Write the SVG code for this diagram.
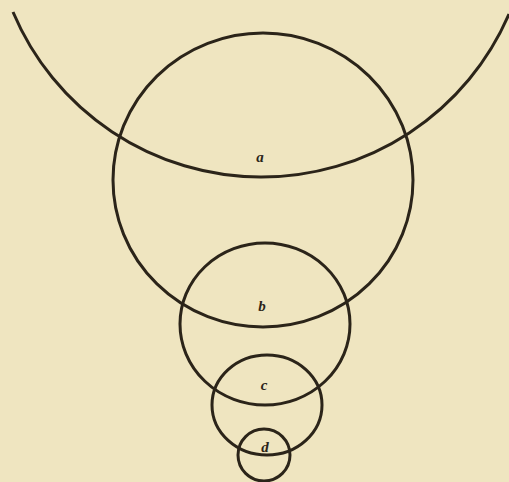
<svg xmlns="http://www.w3.org/2000/svg" width="509" height="482" viewBox="0 0 509 482">
<style>
.ln{fill:none;stroke:#2b2419;stroke-width:3}
.lb{font-family:"Liberation Serif",serif;font-style:italic;font-weight:bold;font-size:15px;fill:#2b2419;text-anchor:middle}
</style>
<rect width="509" height="482" fill="#efe5c0"/>
<g id="outer">
<path class="ln" d="M13,12 A269.5,269.5 0 0 0 509,14" stroke-width="3.5"/>
</g>
<g id="a">
<ellipse class="ln" cx="263" cy="180" rx="150" ry="147"/>
<text class="lb" x="260" y="162">a</text>
</g>
<g id="b">
<ellipse class="ln" cx="265" cy="324" rx="85" ry="81"/>
<text class="lb" x="262" y="311">b</text>
</g>
<g id="c">
<ellipse class="ln" cx="267" cy="405" rx="55" ry="50"/>
<text class="lb" x="264" y="390">c</text>
</g>
<g id="d">
<circle class="ln" cx="264" cy="455" r="26"/>
<text class="lb" x="265" y="452">d</text>
</g>
</svg>
